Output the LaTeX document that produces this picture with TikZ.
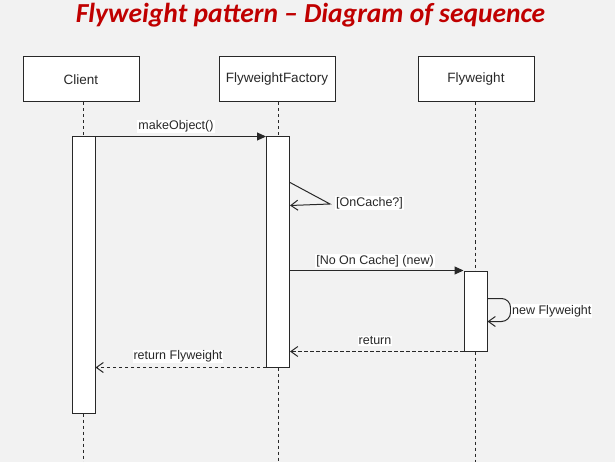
\documentclass[tikz,border=0pt]{standalone}
\usepackage{fontspec}
\setmainfont{Liberation Sans}
\newfontfamily\titlefont[Ligatures=TeX]{Carlito}
\usetikzlibrary{arrows.meta,calc}
\definecolor{bgcol}{RGB}{242,242,242}
\definecolor{titlered}{RGB}{192,0,0}
\definecolor{linecol}{RGB}{40,40,40}
\definecolor{txtcol}{RGB}{40,40,40}
\tikzset{
  headbox/.style={draw=linecol, line width=1pt, fill=white, minimum width=116pt, minimum height=45pt, inner sep=0pt, text=txtcol, font=\fontsize{13.5}{15}\selectfont},
  actbox/.style={draw=linecol, line width=1pt, fill=white, minimum width=23pt, inner sep=0pt},
  lifeline/.style={draw=linecol, line width=1pt, dash pattern=on 3pt off 3pt},
  syncmsg/.style={draw=linecol, line width=1pt, -{Triangle[length=9pt,width=8pt]}},
  retmsg/.style={draw=linecol, line width=1pt, dash pattern=on 3.5pt off 2.5pt, -{Straight Barb[length=7pt,width=10pt]}},
  selfmsg/.style={draw=linecol, line width=1pt, -{Straight Barb[length=7pt,width=10pt]}},
  msglabel/.style={fill=white, inner sep=1pt, text=txtcol, font=\fontsize{12.5}{13.5}\selectfont}
}
\begin{document}
\begin{tikzpicture}[x=1pt,y=-1pt]
\useasboundingbox (0,0) rectangle (615,462);
\fill[bgcol] (0,0) rectangle (615,462);
% title
\node[text=titlered, font=\titlefont\bfseries\itshape\fontsize{27.5}{29}\selectfont] (title) at (310.5,15) {Flyweight pattern \textendash{} Diagram of sequence};
% heads
\node[headbox] (client) at (81,79.5) {Client};
\node[headbox] (factory) at (277,79.5) {FlyweightFactory};
\node[headbox] (fly) at (476,79.5) {Flyweight};
% activations
\node[actbox, minimum height=276pt] (ca) at (83.5,275) {};
\node[actbox, minimum height=230pt] (fa) at (278,252) {};
\node[actbox, minimum height=80pt] (fwa) at (475.5,311) {};
% bottom ends of lifelines
\coordinate (cend) at (83.5,462);
\coordinate (fend) at (278,462);
\coordinate (wend) at (475.5,462);
% lifelines
\draw[lifeline] (client.south -| ca.north) -- (ca.north);
\draw[lifeline] (ca.south) -- (cend);
\draw[lifeline] (factory.south -| fa.north) -- (fa.north);
\draw[lifeline] (fa.south) -- (fend);
\draw[lifeline] (fly.south -| fwa.north) -- (fwa.north);
\draw[lifeline] (fwa.south) -- (wend);
% makeObject
\draw[syncmsg] (ca.north east) -- (fa.north west);
\node[msglabel] (l1) at (176,126.5) {makeObject()};
% OnCache self call
\coordinate (oc) at (330,204);
\draw[selfmsg] ([yshift=-46pt]fa.north east) -- (oc) -- ([yshift=-69pt]fa.north east);
\node[msglabel, anchor=west] (l2) at (335,203) {[OnCache?]};
% No on cache
\draw[syncmsg] (fwa.north west -| fa.east) -- (fwa.north west);
\node[msglabel] (l3) at (375,261) {[No On Cache] (new)};
% new Flyweight self loop
\draw[selfmsg, rounded corners=9pt] ([yshift=-28pt]fwa.north east) -- ++(23,0) -- ++(0,23) -- ([yshift=-51pt]fwa.north east);
\node[msglabel, anchor=west] (l4) at (511,311) {new Flyweight};
% return
\draw[retmsg] (fwa.south west) -- (fwa.south west -| fa.east);
\node[msglabel] (l5) at (375,341) {return};
% return Flyweight
\draw[retmsg] (fa.south west) -- (fa.south west -| ca.east);
\node[msglabel] (l6) at (178,356.5) {return Flyweight};
\end{tikzpicture}
\end{document}
